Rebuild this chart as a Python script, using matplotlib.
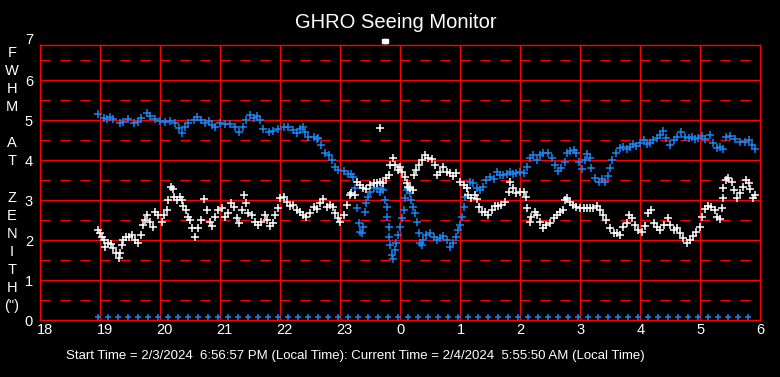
import numpy as np
import matplotlib
matplotlib.use('Agg')
import matplotlib.pyplot as plt
import matplotlib.transforms as mtransforms

plt.rcParams['font.family'] = ['Liberation Sans', 'DejaVu Sans']
plt.rcParams['lines.scale_dashes'] = False

# ---- data (hours; values past 24 are after midnight) ----
blue_t = [18.97, 19.06, 19.11, 19.17, 19.22, 19.33, 19.39, 19.47, 19.56, 19.64, 19.69, 19.78, 19.83,
          19.92, 20.00, 20.08, 20.17, 20.25, 20.31, 20.36, 20.42, 20.47, 20.56, 20.61, 20.69, 20.75,
          20.81, 20.86, 20.92, 21.00, 21.08, 21.17, 21.25, 21.31, 21.39, 21.44, 21.50, 21.56, 21.61,
          21.67, 21.72, 21.81, 21.89, 21.97, 22.06, 22.14, 22.22, 22.28, 22.33, 22.39, 22.42, 22.47,
          22.56, 22.61, 22.64, 22.69, 22.75, 22.81, 22.86, 22.92, 22.97, 23.06, 23.14, 23.19, 23.22,
          23.25, 23.28, 23.31, 23.33, 23.36, 23.39, 23.42, 23.44, 23.47, 23.50, 23.56, 23.61, 23.67,
          23.69, 23.72, 23.75, 23.78, 23.79, 23.81, 23.82, 23.83, 23.86, 23.89, 23.92, 23.94, 23.97,
          24.00, 24.03, 24.06, 24.08, 24.11, 24.14, 24.17, 24.19, 24.22, 24.25, 24.28, 24.31, 24.33,
          24.36, 24.39, 24.44, 24.50, 24.56, 24.61, 24.67, 24.72, 24.78, 24.83, 24.89, 24.93, 24.97,
          25.00, 25.03, 25.06, 25.08, 25.11, 25.17, 25.22, 25.28, 25.33, 25.39, 25.44, 25.50, 25.56,
          25.61, 25.67, 25.72, 25.78, 25.83, 25.89, 25.94, 26.00, 26.06, 26.11, 26.17, 26.22, 26.28,
          26.33, 26.39, 26.47, 26.53, 26.58, 26.64, 26.69, 26.75, 26.79, 26.83, 26.90, 26.94, 26.99,
          27.03, 27.08, 27.12, 27.16, 27.19, 27.25, 27.31, 27.36, 27.42, 27.47, 27.50, 27.54, 27.60,
          27.67, 27.72, 27.78, 27.83, 27.89, 27.94, 28.00, 28.06, 28.11, 28.17, 28.22, 28.28, 28.33,
          28.39, 28.44, 28.50, 28.56, 28.61, 28.69, 28.75, 28.81, 28.86, 28.92, 28.97, 29.03, 29.08,
          29.17, 29.22, 29.28, 29.33, 29.39, 29.44, 29.50, 29.58, 29.67, 29.75, 29.81, 29.86, 29.92]
blue_v = [5.15, 5.04, 5.02, 5.07, 5.02, 4.93, 4.95, 5.02, 4.93, 4.95, 5.04, 5.17, 5.10,
          5.02, 4.97, 4.96, 4.98, 4.93, 4.79, 4.67, 4.82, 4.92, 5.00, 5.08, 5.00, 4.93,
          4.98, 4.88, 4.82, 4.93, 4.90, 4.90, 4.83, 4.71, 4.83, 5.00, 5.12, 5.04, 5.10,
          5.00, 4.77, 4.71, 4.73, 4.77, 4.82, 4.82, 4.75, 4.67, 4.77, 4.83, 4.71, 4.58,
          4.57, 4.52, 4.54, 4.38, 4.18, 4.12, 4.00, 3.83, 3.75, 3.73, 3.65, 3.65, 3.58,
          3.29, 2.79, 2.42, 2.21, 2.17, 2.33, 2.71, 2.92, 3.08, 3.21, 3.29, 3.31, 3.21,
          3.27, 3.25, 3.00, 2.83, 2.58, 2.33, 2.08, 1.88, 1.63, 1.52, 1.75, 1.92, 2.12,
          2.33, 2.54, 2.75, 3.04, 3.25, 3.29, 3.17, 3.00, 2.83, 2.67, 2.46, 2.17, 1.92,
          1.88, 2.00, 2.12, 2.18, 2.08, 2.00, 2.04, 2.10, 2.00, 1.83, 1.93, 2.08, 2.25,
          2.38, 2.58, 2.83, 3.08, 3.29, 3.46, 3.42, 3.29, 3.25, 3.33, 3.50, 3.57, 3.53,
          3.71, 3.63, 3.63, 3.65, 3.71, 3.65, 3.68, 3.71, 3.68, 3.83, 4.04, 4.12, 4.00,
          4.12, 4.17, 4.18, 4.04, 3.88, 3.73, 3.79, 3.96, 4.17, 4.23, 4.25, 4.17, 3.96,
          3.77, 4.00, 4.15, 4.04, 3.79, 3.54, 3.46, 3.52, 3.46, 3.60, 3.79, 4.00, 4.17,
          4.29, 4.33, 4.27, 4.33, 4.40, 4.35, 4.42, 4.50, 4.40, 4.43, 4.50, 4.54, 4.63,
          4.73, 4.54, 4.38, 4.50, 4.58, 4.71, 4.58, 4.54, 4.58, 4.52, 4.54, 4.60, 4.52,
          4.63, 4.42, 4.29, 4.33, 4.27, 4.58, 4.60, 4.52, 4.46, 4.46, 4.50, 4.38, 4.27]

white_t = [18.97, 19.00, 19.03, 19.06, 19.08, 19.14, 19.18, 19.22, 19.27, 19.31, 19.33, 19.36, 19.39,
           19.43, 19.49, 19.54, 19.58, 19.64, 19.68, 19.71, 19.75, 19.78, 19.83, 19.88, 19.92, 19.97,
           20.03, 20.07, 20.11, 20.14, 20.18, 20.21, 20.23, 20.28, 20.33, 20.36, 20.39, 20.43, 20.47,
           20.50, 20.53, 20.58, 20.64, 20.69, 20.73, 20.78, 20.83, 20.87, 20.92, 20.97, 21.03, 21.08,
           21.14, 21.19, 21.23, 21.28, 21.32, 21.36, 21.40, 21.44, 21.47, 21.53, 21.58, 21.64, 21.69,
           21.75, 21.79, 21.83, 21.88, 21.92, 21.96, 22.00, 22.06, 22.11, 22.17, 22.22, 22.28, 22.33,
           22.39, 22.44, 22.50, 22.56, 22.61, 22.67, 22.72, 22.78, 22.83, 22.89, 22.92, 22.97, 23.00,
           23.06, 23.11, 23.16, 23.19, 23.25, 23.29, 23.33, 23.39, 23.44, 23.50, 23.56, 23.61, 23.67,
           23.72, 23.77, 23.81, 23.83, 23.88, 23.92, 23.96, 24.00, 24.04, 24.08, 24.11, 24.14, 24.17,
           24.21, 24.23, 24.27, 24.31, 24.36, 24.42, 24.47, 24.53, 24.58, 24.62, 24.67, 24.72, 24.78,
           24.83, 24.89, 24.94, 25.00, 25.06, 25.11, 25.14, 25.19, 25.25, 25.28, 25.31, 25.36, 25.42,
           25.47, 25.53, 25.58, 25.64, 25.69, 25.75, 25.81, 25.84, 25.89, 25.94, 26.00, 26.06, 26.10,
           26.12, 26.16, 26.19, 26.25, 26.29, 26.33, 26.39, 26.44, 26.50, 26.56, 26.61, 26.67, 26.72,
           26.75, 26.79, 26.83, 26.89, 26.94, 27.00, 27.06, 27.11, 27.17, 27.22, 27.28, 27.33, 27.39,
           27.44, 27.50, 27.56, 27.61, 27.67, 27.72, 27.78, 27.82, 27.86, 27.92, 27.97, 28.03, 28.08,
           28.14, 28.18, 28.23, 28.29, 28.34, 28.40, 28.46, 28.50, 28.56, 28.61, 28.67, 28.72, 28.78,
           28.83, 28.89, 28.94, 29.00, 29.04, 29.08, 29.14, 29.19, 29.25, 29.29, 29.33, 29.36, 29.38,
           29.39, 29.43, 29.47, 29.53, 29.57, 29.61, 29.66, 29.71, 29.77, 29.81, 29.83, 29.88, 29.92]
white_v = [2.25, 2.17, 2.08, 2.00, 1.83, 1.92, 1.90, 1.79, 1.67, 1.54, 1.67, 1.88, 2.00,
           2.07, 2.08, 2.12, 2.00, 1.92, 2.12, 2.38, 2.50, 2.62, 2.46, 2.33, 2.71, 2.62,
           2.46, 2.62, 2.75, 3.00, 3.32, 3.27, 3.08, 3.00, 3.08, 3.00, 2.85, 2.75, 2.58,
           2.50, 2.29, 2.08, 2.29, 2.50, 3.02, 2.75, 2.46, 2.35, 2.58, 2.75, 2.79, 2.58,
           2.67, 2.92, 2.83, 2.54, 2.42, 2.75, 3.13, 2.92, 2.67, 2.62, 2.46, 2.38, 2.44,
           2.62, 2.50, 2.35, 2.42, 2.62, 2.79, 3.04, 3.08, 2.96, 2.85, 2.88, 2.75, 2.71,
           2.62, 2.58, 2.67, 2.82, 2.77, 2.92, 3.02, 2.83, 2.88, 2.83, 2.67, 2.54, 2.46,
           2.62, 2.88, 3.13, 3.17, 3.13, 3.46, 3.38, 3.29, 3.27, 3.38, 3.42, 3.43, 3.46,
           3.42, 3.54, 3.63, 3.88, 4.04, 3.88, 3.75, 3.83, 3.71, 3.58, 3.42, 3.33, 3.29,
           3.25, 3.63, 3.75, 3.88, 4.00, 4.12, 4.04, 4.02, 3.88, 3.63, 3.71, 3.83, 3.71,
           3.68, 3.60, 3.67, 3.46, 3.38, 3.29, 3.13, 3.04, 3.13, 3.02, 2.83, 2.71, 2.69,
           2.62, 2.75, 2.85, 2.85, 2.88, 2.96, 3.21, 3.46, 3.29, 3.17, 3.19, 3.21, 3.08,
           2.79, 2.46, 2.58, 2.71, 2.62, 2.46, 2.29, 2.38, 2.42, 2.54, 2.62, 2.71, 2.75,
           3.00, 3.04, 2.96, 2.88, 2.83, 2.79, 2.79, 2.81, 2.79, 2.81, 2.85, 2.75, 2.62,
           2.50, 2.29, 2.17, 2.17, 2.12, 2.33, 2.42, 2.62, 2.54, 2.38, 2.25, 2.21, 2.35,
           2.67, 2.75, 2.42, 2.33, 2.25, 2.38, 2.54, 2.38, 2.25, 2.29, 2.17, 2.04, 1.92,
           2.00, 2.10, 2.21, 2.33, 2.58, 2.77, 2.85, 2.83, 2.75, 2.58, 2.52, 2.79, 3.04,
           3.29, 3.50, 3.54, 3.46, 3.25, 3.04, 3.17, 3.33, 3.50, 3.42, 3.27, 3.04, 3.13]

# isolated white points
stray_t = [23.67]
stray_v = [4.80]
top_t = [23.73, 23.76]
top_v = [6.98, 6.98]

# status markers along zero line, every 10 minutes from start
status_start = 18.96
status_step = 1.0 / 6.0
status_count = 66
status_t = status_start + status_step * np.arange(status_count)
status_v = np.zeros(status_count)

x_ticks = list(range(18, 31))
x_labels = [str(h % 24) for h in x_ticks]
y_ticks = [0, 1, 2, 3, 4, 5, 6]
ylabel_chars = ['F', 'W', 'H', 'M', '', 'A', 'T', '', 'Z', 'E', 'N', 'I', 'T', 'H', '(")']

title = 'GHRO Seeing Monitor'
footer = ('Start Time = 2/3/2024  6:56:57 PM (Local Time): '
          'Current Time = 2/4/2024  5:55:50 AM (Local Time)')

# ---- drawing ----
W, H = 780, 377
fig = plt.figure(figsize=(W / 100, H / 100), dpi=100, facecolor='black')
ax = fig.add_axes([40 / W, (H - 320) / H, 720 / W, 275 / H])
ax.set_facecolor('black')
ax.set_xlim(18, 30)
ax.set_ylim(0, 6.875)

RED = '#ff0000'
LW = 1.0
for s in ax.spines.values():
    s.set_color(RED)
    s.set_linewidth(LW)
for h in x_ticks[1:-1]:
    ax.axvline(h, color=RED, lw=LW, zorder=1)
for v in range(1, 7):
    ax.axhline(v, color=RED, lw=LW, zorder=1)
for v in np.arange(0.5, 7, 1.0):
    ax.axhline(v, color=RED, lw=LW, dashes=(7.2, 7.2), zorder=1)

BLUE = '#1a84f2'
mk = dict(marker='+', linestyle='none', markersize=5.5, markeredgewidth=1.1)
ax.plot(blue_t, blue_v, color=BLUE, zorder=3, **mk)
ax.plot(white_t, white_v, color='white', zorder=4, **mk)
ax.plot(stray_t, stray_v, color='white', zorder=4, **mk)
ax.plot(top_t, top_v, color='white', zorder=4, clip_on=False, marker='s',
        linestyle='none', markersize=3.5)
ax.plot(status_t, status_v, color=BLUE, zorder=3, clip_on=False,
        transform=ax.transData + mtransforms.ScaledTranslation(0, 3 / 100, fig.dpi_scale_trans),
        marker='+', linestyle='none', markersize=4.5, markeredgewidth=1.1)

ax.set_xticks(x_ticks)
ax.set_xticklabels([])
ax.set_yticks(y_ticks)
ax.tick_params(length=0, colors='white', labelsize=10.5)
ax.tick_params(axis='y', pad=5)

# x tick labels, left-aligned just before each hour line
xlab_tf = ax.get_xaxis_transform() + mtransforms.ScaledTranslation(-3.5 / 100, -3 / 100,
                                                                     fig.dpi_scale_trans)
for h, lab in zip(x_ticks, x_labels):
    ax.text(h, 0, lab, transform=xlab_tf, ha='left', va='top', color='white',
            fontsize=10.5, clip_on=False)

ax.annotate('7', xy=(18, 7), xytext=(-5, 0), textcoords='offset points',
            ha='right', va='center', color='white', fontsize=10.5,
            annotation_clip=False)

fig.text(396 / W, 1 - 22 / H, title, ha='center', va='center',
         color='white', fontsize=14.5)
for i, ch in enumerate(ylabel_chars):
    if ch:
        fig.text(12 / W, 1 - (53 + i * 18.07) / H, ch, ha='center', va='center',
                 color='white', fontsize=10.5)
fig.text(355 / W, 1 - 356 / H, footer, ha='center', va='center',
         color='white', fontsize=9.5)

fig.savefig('out.png', dpi=100, facecolor='black')
